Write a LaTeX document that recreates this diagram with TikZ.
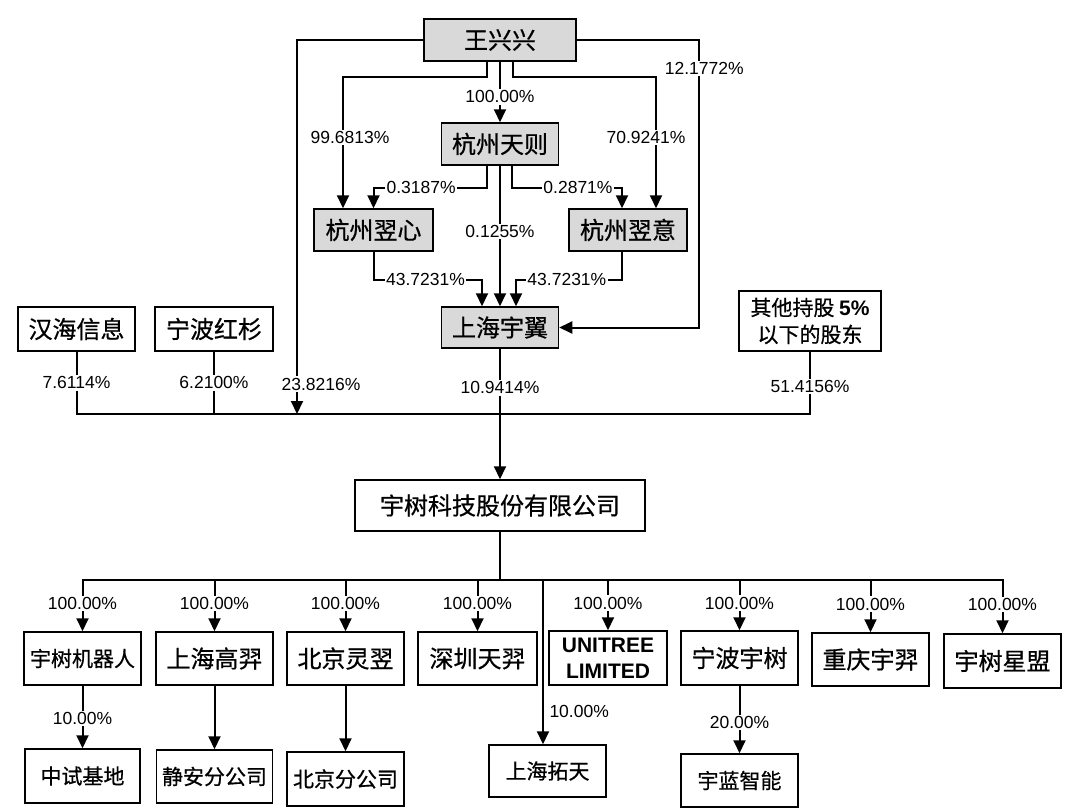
\documentclass[tikz,border=0pt]{standalone}
\usepackage{fontspec}
\setmainfont{Liberation Sans}
\newfontfamily\cjk[FakeBold=0.6]{Noto Sans CJK SC}
\usepackage{tikz}
\usetikzlibrary{arrows.meta,positioning}
\definecolor{boxgray}{RGB}{217,217,217}
\tikzstyle{holder} = [rectangle, draw=black, line width=1.5pt, fill=white, inner sep=0pt, text centered, font=\cjk\fontsize{24}{28}\selectfont]
\tikzstyle{grayholder} = [holder, fill=boxgray]
\tikzstyle{smallholder} = [holder, font=\cjk\fontsize{21}{25}\selectfont]
\tikzstyle{pct} = [fill=white, inner sep=1.5pt, font=\fontsize{17.5}{20}\selectfont]
\tikzstyle{link} = [line width=2pt]
\tikzstyle{arrow} = [link, -{Triangle[width=12pt,length=13pt]}]

\begin{document}
\begin{tikzpicture}[x=1pt, y=-1pt]
\fill[white] (0,0) rectangle (1080,812);
\useasboundingbox (0,0) rectangle (1080,812);
% Holders
\node (wxx) [grayholder, minimum width=152pt, minimum height=42pt] at (500,40) {王兴兴};
\node (hztz) [grayholder, minimum width=117pt, minimum height=42pt] at (500,144) {杭州天则};
\node (hzyx) [grayholder, minimum width=119pt, minimum height=42pt] at (373.5,230) {杭州翌心};
\node (hzyy) [grayholder, minimum width=118pt, minimum height=42pt] at (628,230) {杭州翌意};
\node (shyy) [grayholder, minimum width=117pt, minimum height=41pt] at (500,327.5) {上海宇翼};
\node (hhxx) [holder, minimum width=117pt, minimum height=44pt] at (76.5,329) {汉海信息};
\node (nbhs) [holder, minimum width=118pt, minimum height=44pt] at (214,329) {宁波红杉};
\node (qtgd) [holder, minimum width=142pt, minimum height=60pt, align=center, font=\cjk\fontsize{21}{27}\selectfont] at (810,321) {其他持股 {\rmfamily\bfseries 5\%}\\以下的股东};

% Company
\node (ysgf) [holder, minimum width=290pt, minimum height=51pt] at (500,505.5) {宇树科技股份有限公司};

% Subsidiaries
\node (jqr) [smallholder, minimum width=117pt, minimum height=53pt] at (82.5,658.5) {宇树机器人};
\node (shgy) [holder, minimum width=117pt, minimum height=53pt] at (214.5,658.5) {上海高羿};
\node (bjlx) [holder, minimum width=117pt, minimum height=53pt] at (345.5,658.5) {北京灵翌};
\node (sztx) [holder, minimum width=119pt, minimum height=53pt] at (477.5,658.5) {深圳天羿};
\node (unitree) [holder, minimum width=118pt, minimum height=54pt, align=center, font=\rmfamily\bfseries\fontsize{21}{26}\selectfont] at (608,658) {UNITREE\\LIMITED};
\node (nbys) [holder, minimum width=117pt, minimum height=54pt] at (739.5,658) {宁波宇树};
\node (cqyx) [holder, minimum width=117pt, minimum height=53pt] at (870.5,659.5) {重庆宇羿};
\node (ysxm) [holder, minimum width=117pt, minimum height=54pt] at (1002.5,661) {宇树星盟};

% Second level
\node (zsjd) [smallholder, minimum width=115pt, minimum height=54pt] at (82.5,776) {中试基地};
\node (jafgs) [smallholder, minimum width=116pt, minimum height=53pt] at (214.5,776.5) {静安分公司};
\node (bjfgs) [smallholder, minimum width=117pt, minimum height=54pt] at (345.5,779) {北京分公司};
\node (shtt) [smallholder, minimum width=117pt, minimum height=52pt] at (547.5,771) {上海拓天};
\node (ylzn) [smallholder, minimum width=117pt, minimum height=53pt] at (739.5,780.5) {宇蓝智能};

% Arrows
\draw[arrow] (wxx) -- node[pct, pos=0.58]{100.00\%} (hztz);
\draw[arrow] ([xshift=-13pt]wxx.south) -- ++(0,15) -| node[pct, pos=0.73, xshift=7pt]{99.6813\%} ([xshift=-30.5pt]hzyx.north);
\draw[arrow] ([xshift=13pt]wxx.south) -- ++(0,15) -| node[pct, pos=0.73, xshift=-10pt]{70.9241\%} ([xshift=28pt]hzyy.north);
\draw[arrow] (wxx.east) -| node[pct, pos=0.55, xshift=5pt]{12.1772\%} ([xshift=140pt]shyy.east) -- (shyy.east);
\draw[arrow] ([xshift=-13pt]hztz.south) -- ++(0,22) -| node[pct, pos=0.29]{0.3187\%} (hzyx.north);
\draw[arrow] ([xshift=12pt]hztz.south) -- ++(0,22) -| node[pct, pos=0.3]{0.2871\%} ([xshift=-6pt]hzyy.north);
\draw[arrow] (hztz) -- node[pct, pos=0.47]{0.1255\%} (shyy);
\draw[arrow] (hzyx.south) -- ++(0,28) -| node[pct, pos=0.24]{43.7231\%} ([xshift=-18pt]shyy.north);
\draw[arrow] ([xshift=-6pt]hzyy.south) -- ++(0,28) -| node[pct, pos=0.26]{43.7231\%} ([xshift=16pt]shyy.north);

% Shareholders bus
\coordinate (bus) at (500,414);
\coordinate (wbus) at (297,414);
\draw[arrow] (wxx.west) -| node[pct, pos=0.96, xshift=24pt]{23.8216\%} (wbus);
\draw[link] (hhxx.south) |- node[pct, pos=0.25]{7.6114\%} (bus);
\draw[link] (nbhs.south) |- node[pct, pos=0.25]{6.2100\%} (bus);
\draw[link] (qtgd.south) |- node[pct, pos=0.28]{51.4156\%} (bus);
\draw[link] (shyy) -- node[pct, pos=0.6]{10.9414\%} (bus);
\draw[arrow] (bus) -- (ysgf);

% Subsidiaries bus
\coordinate (bus2) at (500,580);
\coordinate (ttop) at ([xshift=-4.5pt]shtt.north);
\draw[link] (ysgf) -- (bus2);
\draw[arrow] (bus2) -| node[pct, pos=0.73]{100.00\%} (jqr.north);
\draw[arrow] (bus2) -| node[pct, pos=0.73]{100.00\%} (shgy.north);
\draw[arrow] (bus2) -| node[pct, pos=0.73]{100.00\%} (bjlx.north);
\draw[arrow] (bus2) -| node[pct, pos=0.73]{100.00\%} (sztx.north);
\draw[arrow] (bus2) -| node[pct, pos=0.73]{100.00\%} (unitree.north);
\draw[arrow] (bus2) -| node[pct, pos=0.73]{100.00\%} (nbys.north);
\draw[arrow] (bus2) -| node[pct, pos=0.73]{100.00\%} (cqyx.north);
\draw[arrow] (bus2) -| node[pct, pos=0.73]{100.00\%} (ysxm.north);
\draw[arrow] (ttop |- bus2) -- node[pos=0.8, right, xshift=4pt, inner sep=1.5pt, font=\fontsize{17.5}{20}\selectfont]{10.00\%} (ttop);
\draw[arrow] (jqr) -- node[pct, pos=0.52]{10.00\%} (zsjd);
\draw[arrow] (shgy) -- (jafgs);
\draw[arrow] (bjlx) -- (bjfgs);
\draw[arrow] (nbys) -- node[pct, pos=0.54]{20.00\%} (ylzn);
\end{tikzpicture}
\end{document}
